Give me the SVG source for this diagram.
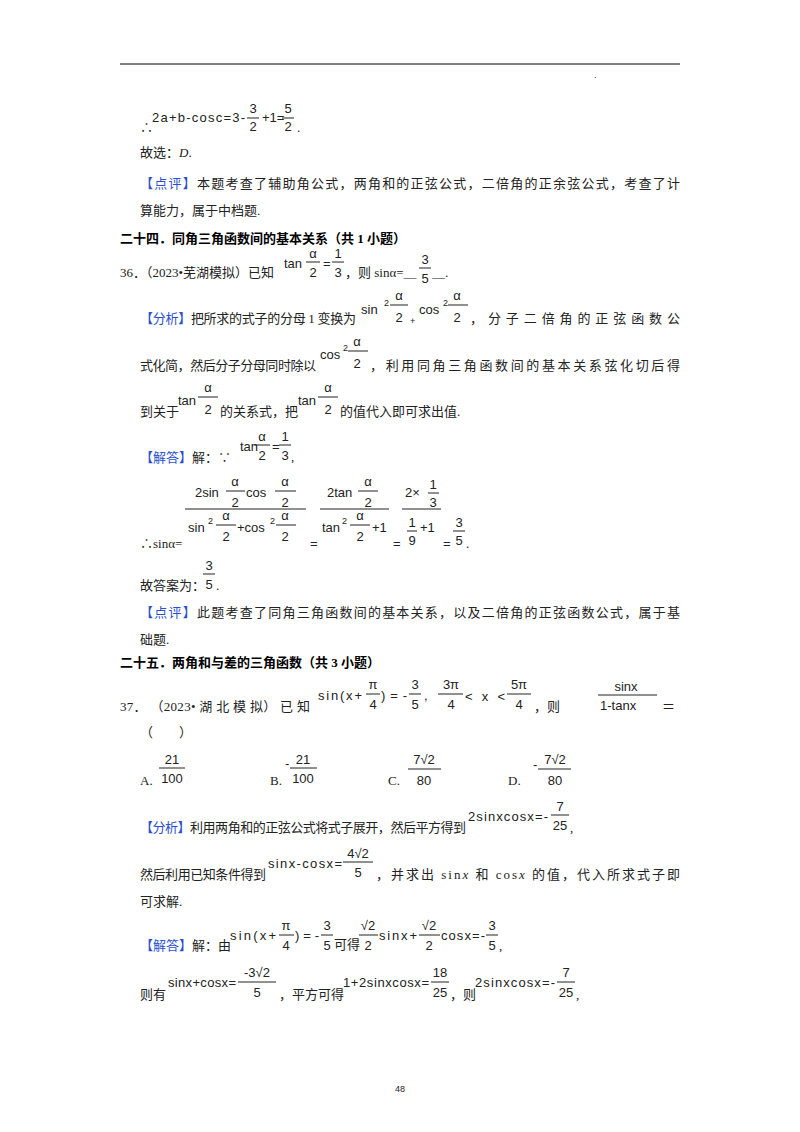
<svg xmlns="http://www.w3.org/2000/svg" width="800" height="1132" viewBox="0 0 800 1132">
<style>
.t{font-family:"Liberation Serif","Noto Sans CJK SC",serif;font-size:13px;fill:#222}
.b{font-family:"Liberation Serif","Noto Sans CJK SC",serif;font-size:13px;font-weight:bold;fill:#000}
.k{fill:#2a4fd0}
.m{font-family:"Liberation Sans","DejaVu Sans",sans-serif;font-size:13px;fill:#222}
.c{text-anchor:middle}
.s{font-size:9px}
line.f{stroke:#222;stroke-width:1}
</style>
<rect width="800" height="1132" fill="#fff"/>
<line x1="120" y1="64" x2="680" y2="64" stroke="#000" stroke-width="1"/>
<text x="594" y="78" class="m s">.</text>

<text x="140" y="132" class="t">∴</text>
<text x="152" y="122" class="m" textLength="93">2a+b-cosc=3-</text>
<text x="253" y="113" class="m c">3</text><line class="f" x1="247" y1="118" x2="259" y2="118"/><text x="253" y="131" class="m c">2</text>
<text x="262" y="122" class="m">+1=</text>
<text x="288" y="113" class="m c">5</text><line class="f" x1="282" y1="118" x2="294" y2="118"/><text x="288" y="131" class="m c">2</text>
<text x="297" y="132" class="t">.</text>
<text x="140" y="157" class="t">故选：<tspan font-style="italic">D</tspan>.</text>
<text x="140" y="188" class="t" textLength="540"><tspan class="k">【点评】</tspan>本题考查了辅助角公式，两角和的正弦公式，二倍角的正余弦公式，考查了计</text>
<text x="140" y="215" class="t">算能力，属于中档题.</text>

<text x="120" y="243" class="b">二十四．同角三角函数间的基本关系（共 1 小题）</text>
<text x="120" y="277" class="t">36．（2023•芜湖模拟）已知</text>
<text x="284" y="268" class="m">tan</text>
<text x="313" y="258" class="m c">α</text><line class="f" x1="306" y1="262" x2="320" y2="262"/><text x="313" y="277" class="m c">2</text>
<text x="323" y="268" class="m">=</text>
<text x="338" y="258" class="m c">1</text><line class="f" x1="332" y1="262" x2="344" y2="262"/><text x="338" y="277" class="m c">3</text>
<text x="345" y="277" class="t">，则 sinα=＿</text>
<text x="425" y="264" class="m c">3</text><line class="f" x1="419" y1="268" x2="431" y2="268"/><text x="425" y="283" class="m c">5</text>
<text x="432" y="277" class="t">＿.</text>

<text x="140" y="323" class="t" textLength="216"><tspan class="k">【分析】</tspan>把所求的式子的分母 1 变换为</text>
<text x="361" y="314" class="m">sin</text><text x="384" y="306" class="m s">2</text>
<text x="399" y="300" class="m c">α</text><line class="f" x1="390" y1="305" x2="408" y2="305"/><text x="399" y="322" class="m c">2</text>
<text x="410" y="324" class="m s">+</text>
<text x="419" y="314" class="m">cos</text><text x="443" y="306" class="m s">2</text>
<text x="457" y="300" class="m c">α</text><line class="f" x1="448" y1="305" x2="468" y2="305"/><text x="457" y="322" class="m c">2</text>
<text x="470" y="323" class="t" textLength="210">，分子二倍角的正弦函数公</text>

<text x="140" y="370" class="t" textLength="176">式化简，然后分子分母同时除以</text>
<text x="320" y="359" class="m">cos</text><text x="343" y="351" class="m s">2</text>
<text x="357" y="346" class="m c">α</text><line class="f" x1="348" y1="351" x2="368" y2="351"/><text x="357" y="368" class="m c">2</text>
<text x="370" y="370" class="t" textLength="310">，利用同角三角函数间的基本关系弦化切后得</text>

<text x="140" y="416" class="t">到关于</text>
<text x="178" y="405" class="m">tan</text>
<text x="208" y="392" class="m c">α</text><line class="f" x1="198" y1="397" x2="218" y2="397"/><text x="208" y="414" class="m c">2</text>
<text x="220" y="416" class="t">的关系式，把</text>
<text x="298" y="405" class="m">tan</text>
<text x="328" y="392" class="m c">α</text><line class="f" x1="318" y1="397" x2="338" y2="397"/><text x="328" y="414" class="m c">2</text>
<text x="340" y="416" class="t">的值代入即可求出值.</text>

<text x="140" y="462" class="t"><tspan class="k">【解答】</tspan>解：∵</text>
<text x="240" y="451" class="m">tan</text>
<text x="262" y="441" class="m c">α</text><line class="f" x1="254" y1="445" x2="270" y2="445"/><text x="262" y="460" class="m c">2</text>
<text x="272" y="451" class="m">=</text>
<text x="285" y="441" class="m c">1</text><line class="f" x1="279" y1="445" x2="291" y2="445"/><text x="285" y="460" class="m c">3</text>
<text x="291" y="461" class="t">,</text>

<text x="140" y="548" class="t">∴sinα=</text>
<text x="195" y="497" class="m">2sin</text>
<text x="235" y="486" class="m c">α</text><line class="f" x1="226" y1="491" x2="245" y2="491"/><text x="235" y="507" class="m c">2</text>
<text x="246" y="497" class="m">cos</text>
<text x="285" y="486" class="m c">α</text><line class="f" x1="275" y1="491" x2="296" y2="491"/><text x="285" y="507" class="m c">2</text>
<line class="f" x1="185" y1="509" x2="306" y2="509"/>
<text x="188" y="532" class="m">sin</text><text x="208" y="524" class="m s">2</text>
<text x="226" y="520" class="m c">α</text><line class="f" x1="216" y1="525" x2="236" y2="525"/><text x="226" y="541" class="m c">2</text>
<text x="237" y="532" class="m">+cos</text><text x="270" y="524" class="m s">2</text>
<text x="285" y="520" class="m c">α</text><line class="f" x1="276" y1="525" x2="296" y2="525"/><text x="285" y="541" class="m c">2</text>
<text x="310" y="548" class="m">=</text>
<text x="327" y="497" class="m">2tan</text>
<text x="368" y="486" class="m c">α</text><line class="f" x1="358" y1="491" x2="378" y2="491"/><text x="368" y="507" class="m c">2</text>
<line class="f" x1="320" y1="509" x2="389" y2="509"/>
<text x="322" y="532" class="m">tan</text><text x="342" y="524" class="m s">2</text>
<text x="360" y="520" class="m c">α</text><line class="f" x1="350" y1="525" x2="370" y2="525"/><text x="360" y="541" class="m c">2</text>
<text x="372" y="532" class="m">+1</text>
<text x="393" y="548" class="m">=</text>
<text x="405" y="497" class="m">2×</text>
<text x="433" y="489" class="m c">1</text><line class="f" x1="428" y1="493" x2="439" y2="493"/><text x="433" y="507" class="m c">3</text>
<line class="f" x1="402" y1="509" x2="441" y2="509"/>
<text x="412" y="527" class="m c">1</text><line class="f" x1="407" y1="531" x2="417" y2="531"/><text x="412" y="545" class="m c">9</text>
<text x="420" y="532" class="m">+1</text>
<text x="443" y="548" class="m">=</text>
<text x="459" y="527" class="m c">3</text><line class="f" x1="453" y1="531" x2="465" y2="531"/><text x="459" y="545" class="m c">5</text>
<text x="466" y="548" class="t">.</text>

<text x="140" y="590" class="t">故答案为：</text>
<text x="209" y="570" class="m c">3</text><line class="f" x1="203" y1="574" x2="215" y2="574"/><text x="209" y="589" class="m c">5</text>
<text x="216" y="590" class="t">.</text>
<text x="140" y="617" class="t" textLength="540"><tspan class="k">【点评】</tspan>此题考查了同角三角函数间的基本关系，以及二倍角的正弦函数公式，属于基</text>
<text x="140" y="644" class="t">础题.</text>

<text x="120" y="667" class="b">二十五．两角和与差的三角函数（共 3 小题）</text>

<text x="120" y="711" class="t" textLength="190">37． （2023• 湖 北 模 拟） 已 知</text>
<text x="318" y="700" class="m" font-size="15" textLength="44">sin(x+</text>
<text x="373" y="689" class="m c">π</text><line class="f" x1="366" y1="694" x2="380" y2="694"/><text x="373" y="709" class="m c">4</text>
<text x="381" y="700" class="m" font-size="15" textLength="26">)=-</text>
<text x="415" y="689" class="m c">3</text><line class="f" x1="409" y1="694" x2="421" y2="694"/><text x="415" y="709" class="m c">5</text>
<text x="424" y="700" class="m">,</text>
<text x="451" y="689" class="m c">3π</text><line class="f" x1="438" y1="694" x2="463" y2="694"/><text x="451" y="709" class="m c">4</text>
<text x="465" y="701" class="m" font-size="15" textLength="40">&lt;x&lt;</text>
<text x="519" y="689" class="m c">5π</text><line class="f" x1="507" y1="694" x2="531" y2="694"/><text x="519" y="709" class="m c">4</text>
<text x="534" y="711" class="t">，则</text>
<text x="626" y="691" class="m c">sinx</text><line class="f" x1="598" y1="695" x2="657" y2="695"/><text x="600" y="710" class="m">1-tanx</text>
<text x="662" y="711" class="t">＝</text>
<text x="140" y="737" class="t">（　　）</text>

<text x="140" y="785" class="t">A.</text>
<text x="172" y="764" class="m c" font-size="14">21</text><line class="f" x1="159" y1="768" x2="185" y2="768"/><text x="172" y="783" class="m c" font-size="14">100</text>
<text x="270" y="785" class="t">B.</text>
<text x="285" y="768" class="m">-</text>
<text x="303" y="764" class="m c" font-size="14">21</text><line class="f" x1="290" y1="768" x2="317" y2="768"/><text x="303" y="783" class="m c" font-size="14">100</text>
<text x="388" y="785" class="t">C.</text>
<text x="424" y="764" class="m c" font-size="14">7√2</text><line class="f" x1="408" y1="769" x2="441" y2="769"/><text x="424" y="785" class="m c" font-size="14">80</text>
<text x="508" y="785" class="t">D.</text>
<text x="533" y="769" class="m">-</text>
<text x="555" y="764" class="m c" font-size="14">7√2</text><line class="f" x1="538" y1="769" x2="571" y2="769"/><text x="555" y="785" class="m c" font-size="14">80</text>

<text x="140" y="832" class="t" textLength="326"><tspan class="k">【分析】</tspan>利用两角和的正弦公式将式子展开，然后平方得到</text>
<text x="468" y="821" class="m" textLength="80">2sinxcosx=-</text>
<text x="560" y="811" class="m c">7</text><line class="f" x1="551" y1="815" x2="569" y2="815"/><text x="560" y="830" class="m c">25</text>
<text x="570" y="832" class="t">,</text>
<text x="140" y="879" class="t" textLength="126">然后利用已知条件得到</text>
<text x="268" y="868" class="m" textLength="74">sinx-cosx=</text>
<text x="358" y="858" class="m c">4√2</text><line class="f" x1="343" y1="862" x2="373" y2="862"/><text x="358" y="877" class="m c">5</text>
<text x="376" y="879" class="t" textLength="304">，并求出 sin<tspan font-style="italic">x</tspan> 和 cos<tspan font-style="italic">x</tspan> 的值，代入所求式子即</text>
<text x="140" y="906" class="t">可求解.</text>

<text x="140" y="950" class="t"><tspan class="k">【解答】</tspan>解：由</text>
<text x="230" y="940" class="m" font-size="15" textLength="46">sin(x+</text>
<text x="286" y="930" class="m c">π</text><line class="f" x1="279" y1="935" x2="294" y2="935"/><text x="286" y="950" class="m c">4</text>
<text x="295" y="940" class="m" font-size="15" textLength="24">)=-</text>
<text x="327" y="930" class="m c">3</text><line class="f" x1="321" y1="935" x2="333" y2="935"/><text x="327" y="950" class="m c">5</text>
<text x="334" y="949" class="t">可得</text>
<text x="368" y="930" class="m c">√2</text><line class="f" x1="359" y1="935" x2="378" y2="935"/><text x="368" y="950" class="m c">2</text>
<text x="379" y="940" class="m" textLength="38">sinx+</text>
<text x="429" y="930" class="m c">√2</text><line class="f" x1="419" y1="935" x2="440" y2="935"/><text x="429" y="950" class="m c">2</text>
<text x="441" y="940" class="m" textLength="44">cosx=-</text>
<text x="492" y="930" class="m c">3</text><line class="f" x1="486" y1="935" x2="498" y2="935"/><text x="492" y="950" class="m c">5</text>
<text x="499" y="950" class="t">,</text>

<text x="140" y="999" class="t">则有</text>
<text x="168" y="987" class="m" textLength="68">sinx+cosx=</text>
<text x="257" y="977" class="m c">-3√2</text><line class="f" x1="238" y1="982" x2="276" y2="982"/><text x="257" y="997" class="m c">5</text>
<text x="279" y="999" class="t">，平方可得</text>
<text x="343" y="987" class="m" textLength="86">1+2sinxcosx=</text>
<text x="440" y="977" class="m c">18</text><line class="f" x1="431" y1="982" x2="449" y2="982"/><text x="440" y="997" class="m c">25</text>
<text x="450" y="999" class="t">，则</text>
<text x="475" y="987" class="m" textLength="80">2sinxcosx=-</text>
<text x="566" y="977" class="m c">7</text><line class="f" x1="557" y1="982" x2="575" y2="982"/><text x="566" y="997" class="m c">25</text>
<text x="576" y="999" class="t">,</text>

<text x="400" y="1092" class="m c s">48</text>
</svg>
